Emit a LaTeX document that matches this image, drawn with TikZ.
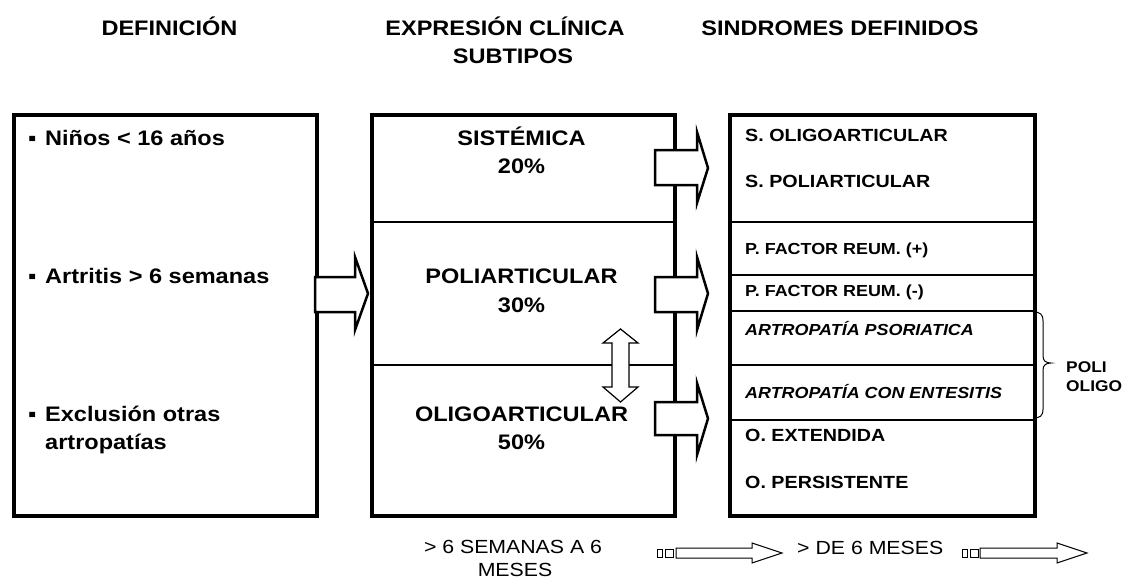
\documentclass[tikz,border=0pt]{standalone}
\usepackage{fontspec}
\setmainfont{Liberation Sans}[FakeStretch=1.12]
\begin{document}
\begin{tikzpicture}[x=1pt,y=-1pt,
  bigbox/.style={draw, line width=3.5pt, minimum height=401pt, inner sep=0, anchor=north west},
  thickdiv/.style={line width=2.6pt},
  thindiv/.style={line width=1.2pt},
  tb/.style={font=\fontsize{21}{25}\selectfont\bfseries, inner sep=0},
  rs/.style={font=\fontsize{17.6}{20}\selectfont\bfseries, inner sep=0, anchor=base west},
  rp/.style={font=\fontsize{16}{19}\selectfont\bfseries, inner sep=0, anchor=base west},
  ri/.style={font=\fontsize{16}{19}\selectfont\bfseries\itshape, inner sep=0, anchor=base west},
  pl/.style={font=\fontsize{15.5}{19}\selectfont\bfseries, inner sep=0, anchor=base west},
  bt/.style={font=\fontsize{19}{24}\selectfont, inner sep=0},
  blk/.style={draw, fill=white, line width=2.5pt, line join=miter},
  dbl/.style={draw, fill=white, line width=1.2pt, line join=miter},
  strp/.style={draw, fill=white, line width=1pt, line join=miter}]
\useasboundingbox (0,0) rectangle (1123,581);

% headers
\node[tb, anchor=base] (h1) at (169.5,35) {DEFINICIÓN};
\node[tb, anchor=base] (h2) at (505,35) {EXPRESIÓN CLÍNICA};
\node[tb, anchor=base] (h2b) at (513,63) {SUBTIPOS};
\node[tb, anchor=base] (h3) at (840,35) {SINDROMES DEFINIDOS};

% boxes
\node[bigbox, minimum width=303pt] (def) at (12,113) {};
\node[bigbox, minimum width=303pt] (mid) at (370,113) {};
\node[bigbox, minimum width=305pt] (syn) at (728,113) {};

% dividers
\draw[thickdiv] (370,222) -- (673,222);
\draw[thickdiv] (370,365) -- (673,365);
\draw[thickdiv] (728,222) -- (1033,222);
\draw[thindiv] (728,275) -- (1033,275);
\draw[thindiv] (728,311) -- (1033,311);
\draw[line width=1.6pt] (728,365) -- (1033,365);
\draw[thickdiv] (728,420) -- (1033,420);

% left texts
\node[tb, anchor=base west] (d1) at (28,145) {\makebox[17pt][l]{▪}Niños < 16 años};
\node[tb, anchor=base west] (d2) at (28,283) {\makebox[17pt][l]{▪}Artritis > 6 semanas};
\node[tb, anchor=base west] (d3) at (28,421) {\makebox[17pt][l]{▪}Exclusión otras};
\node[tb, anchor=base west] (d3b) at (45,449) {artropatías};

% middle texts
\node[tb, anchor=base] (s1) at (521.5,145) {SISTÉMICA};
\node[tb, anchor=base] (s1p) at (521.5,173) {20\%};
\node[tb, anchor=base] (s2) at (521.5,283) {POLIARTICULAR};
\node[tb, anchor=base] (s2p) at (521.5,312) {30\%};
\node[tb, anchor=base] (s3) at (521.5,421) {OLIGOARTICULAR};
\node[tb, anchor=base] (s3p) at (521.5,449) {50\%};

% right texts
\node[rs] (r1) at (745,141.5) {S. OLIGOARTICULAR};
\node[rs] (r2) at (745,187.5) {S. POLIARTICULAR};
\node[rp] (r3) at (745,254.7) {P. FACTOR REUM. (+)};
\node[rp] (r4) at (745,296.7) {P. FACTOR REUM. (-)};
\node[ri] (r5) at (745,335.7) {ARTROPATÍA PSORIATICA};
\node[ri] (r6) at (745,398.7) {ARTROPATÍA CON ENTESITIS};
\node[rs] (r7) at (745,441.5) {O. EXTENDIDA};
\node[rs] (r8) at (745,488.5) {O. PERSISTENTE};

% brace and label
\draw[line width=1pt] (1033,312) .. controls (1040,312) and (1043,314) .. (1043,321)
  -- (1043,356) .. controls (1043,361) and (1046,363) .. (1051,363)
  .. controls (1046,363) and (1043,365) .. (1043,370)
  -- (1043,409) .. controls (1043,416) and (1040,418) .. (1033,418);
\node[pl] (p1) at (1066,372.5) {POLI};
\node[pl] (p2) at (1066,391.5) {OLIGO};

% block arrows
\draw[blk] (315,277) -- (355,277) -- (355,257) -- (368,293.5) -- (355,330) -- (355,312) -- (315,312) -- cycle;
\draw[blk] (655,150) -- (697,150) -- (697,132) -- (708,168) -- (697,203) -- (697,185) -- (655,185) -- cycle;
\draw[blk] (655,277) -- (697,277) -- (697,257) -- (708,293.5) -- (697,330) -- (697,312) -- (655,312) -- cycle;
\draw[blk] (655,402) -- (697,402) -- (697,383) -- (708,418.5) -- (697,455) -- (697,435) -- (655,435) -- cycle;

% double vertical arrow
\draw[dbl] (620.5,329) -- (638,343) -- (629,343) -- (629,387) -- (638,387) -- (620.5,402)
  -- (603,387) -- (612,387) -- (612,343) -- (603,343) -- cycle;

% bottom texts
\node[bt, anchor=base] (t1) at (513,553) {> 6 SEMANAS A 6};
\node[bt, anchor=base] (t1b) at (515,576.5) {MESES};
\node[bt, anchor=base west] (t2) at (797,554) {> DE 6 MESES};

% striped arrows
\draw[strp] (657,549) rectangle (662,557);
\draw[strp] (665,549) rectangle (673,557);
\draw[strp] (676,548) -- (752,548) -- (752,543) -- (782,553) -- (752,563) -- (752,558) -- (676,558) -- cycle;
\draw[strp] (962,549) rectangle (967,557);
\draw[strp] (970,549) rectangle (978,557);
\draw[strp] (980,548) -- (1057,548) -- (1057,543) -- (1087,553) -- (1057,563) -- (1057,558) -- (980,558) -- cycle;
\end{tikzpicture}
\end{document}
